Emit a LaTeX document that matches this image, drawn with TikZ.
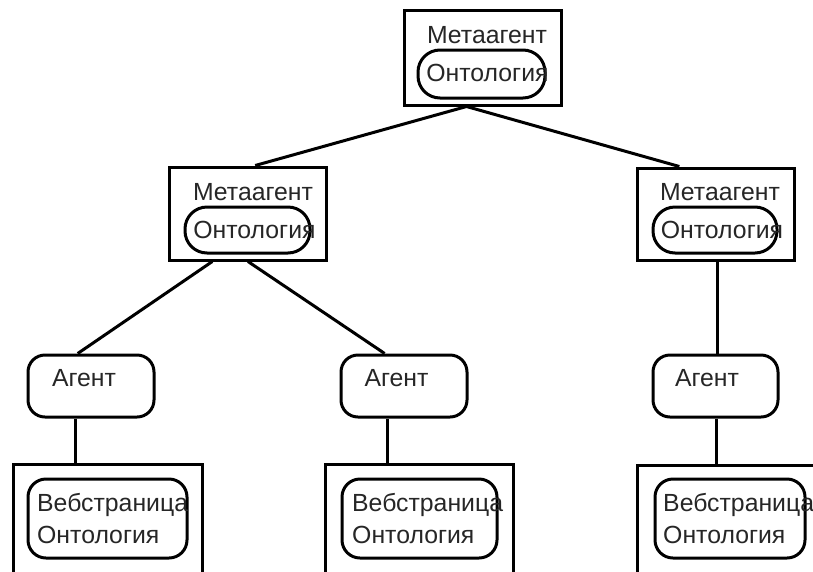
\documentclass[tikz,border=0pt]{standalone}
\usepackage{fontspec}
\setmainfont{Liberation Sans}
\usetikzlibrary{calc}
\begin{document}
\begin{tikzpicture}[x=1pt,y=-1pt,
  lw/.style={line width=3pt},
  frame/.style={draw,lw,rectangle,inner sep=0pt},
  pill/.style={draw,lw,rectangle,rounded corners=22pt,inner sep=0pt},
  agentbox/.style={draw,lw,rectangle,rounded corners=17pt,inner sep=0pt,minimum width=126pt,minimum height=62pt},
  txt/.style={inner sep=0pt,text=black!85,font=\fontsize{24.8}{32}\selectfont},
  conn/.style={lw}]
\useasboundingbox (0,0) rectangle (813,571);
\clip (0,0) rectangle (813,571);
% top metaagent
\node[frame,minimum width=157pt,minimum height=95pt] (tb) at (482.5,57.5) {};
\node[txt] (tbl) at (487,35) {Метаагент};
\node[pill,minimum width=127pt,minimum height=48pt] (tbo) at (481.5,74) {};
\node[txt] (tbot) at (487.5,73) {Онтология};
% mid-left metaagent
\node[frame,minimum width=157pt,minimum height=93pt] (ml) at (247.5,213.5) {};
\node[txt] (mll) at (253,192) {Метаагент};
\node[pill,minimum width=125pt,minimum height=46pt] (mlo) at (247.5,230) {};
\node[txt] (mlot) at (254.5,230) {Онтология};
% mid-right metaagent
\node[frame,minimum width=157pt,minimum height=92pt] (mr) at (715.5,214) {};
\node[txt] (mrl) at (720,192) {Метаагент};
\node[pill,minimum width=124pt,minimum height=46pt] (mro) at (715,230) {};
\node[txt] (mrot) at (722,230) {Онтология};
% agents
\node[agentbox] (a1) at (91,386) {};
\node[txt] (a1t) at (84,378) {Агент};
\node[agentbox] (a2) at (404,386) {};
\node[txt] (a2t) at (396.5,378) {Агент};
\node[agentbox,minimum width=125pt] (a3) at (715.5,386) {};
\node[txt] (a3t) at (707,378) {Агент};
% web page boxes (extend past the bottom edge)
\node[frame,minimum width=189pt,minimum height=136pt] (w1) at (107.5,532) {};
\node[frame,minimum width=188pt,minimum height=136pt] (w2) at (419,532) {};
\node[frame,minimum width=193pt,minimum height=135pt] (w3) at (733.5,532.5) {};
\node[pill,rounded corners=18pt,minimum width=159pt,minimum height=79pt] (w1p) at (107.5,518.5) {};
\node[pill,rounded corners=18pt,minimum width=155pt,minimum height=79pt] (w2p) at (419.5,518.5) {};
\node[pill,rounded corners=18pt,minimum width=150pt,minimum height=79pt] (w3p) at (730,518.5) {};
\node[txt,anchor=west,align=left] (w1t) at (37,519) {Вебстраница\\Онтология};
\node[txt,anchor=west,align=left] (w2t) at (352,519) {Вебстраница\\Онтология};
\node[txt,anchor=west,align=left] (w3t) at (663,519) {Вебстраница\\Онтология};
% connectors
\coordinate (tj) at ($(tb.south west)!0.4!(tb.south east)$);
\draw[conn] (tj) -- ($(ml.north west)!0.548!(ml.north east)$);
\draw[conn] (tj) -- ($(mr.north west)!0.274!(mr.north east)$);
\draw[conn] ($(ml.south west)!0.28!(ml.south east)$) -- ($(a1.north west)!0.397!(a1.north east)$);
\draw[conn] ($(ml.south west)!0.503!(ml.south east)$) -- ($(a2.north west)!0.35!(a2.north east)$);
\coordinate (m3) at ($(mr.south west)!0.51!(mr.south east)$);
\draw[conn] (m3) -- (m3 |- a3.north);
\coordinate (b1) at ($(a1.south west)!0.38!(a1.south east)$);
\draw[conn] (b1) -- (b1 |- w1.north);
\coordinate (b2) at ($(a2.south west)!0.373!(a2.south east)$);
\draw[conn] (b2) -- (b2 |- w2.north);
\coordinate (b3) at ($(a3.south west)!0.51!(a3.south east)$);
\draw[conn] (b3) -- (b3 |- w3.north);
\end{tikzpicture}
\end{document}
